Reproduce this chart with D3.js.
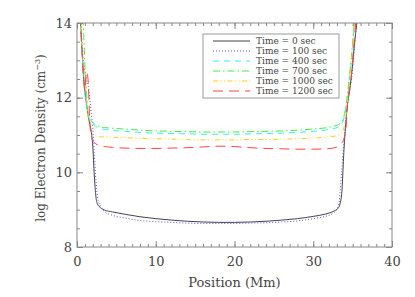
<!DOCTYPE html>
<html>
<head>
<meta charset="utf-8">
<script src="https://cdn.jsdelivr.net/npm/d3@7"></script>
<style>
  body { margin: 0; background: #fff; }
  svg { display: block; }
  text { font-family: "DejaVu Serif", serif; fill: #444; }
</style>
</head>
<body>
<svg id="chart"></svg>
<script>
// position along the loop (Mm)
const position = [0.4, 0.6, 0.8, 1.0, 1.2, 1.4, 1.6, 1.8, 2.0, 2.2, 2.4, 2.6, 3.0, 3.5, 4.5,
    6, 8, 10, 12, 14, 16, 18, 20, 22, 24, 26, 28, 30, 31.5, 32.5,
    33.2, 33.6, 33.9, 34.2, 34.4, 34.6, 34.8, 35.0, 35.2, 35.4, 35.6, 35.8, 36.0];

// log electron density for each time step
const t0 = [14.2, 13.4, 12.7, 12.2, 11.85, 11.55, 11.3, 11.1, 10.7, 9.9, 9.35, 9.15, 9.05, 8.99, 8.94,
    8.88, 8.81, 8.76, 8.72, 8.69, 8.67, 8.66, 8.66, 8.67, 8.69, 8.72, 8.76, 8.82, 8.88, 8.95,
    9.05, 9.4, 10.6, 11.5, 11.9, 12.16, 12.5, 12.9, 13.35, 13.75, 14.1, 14.4, 14.6];
const t100 = [14.3, 13.6, 13.0, 12.7, 12.5, 12.35, 12.0, 11.6, 11.2, 10.5, 9.8, 9.35, 9.08, 8.95, 8.85,
    8.78, 8.71, 8.68, 8.66, 8.64, 8.63, 8.63, 8.63, 8.64, 8.65, 8.67, 8.7, 8.76, 8.82, 8.9,
    9.1, 10.0, 10.8, 11.5, 12.0, 12.3, 12.4, 12.8, 13.3, 13.8, 14.2, 14.5, 14.7];
const t400 = [14.2, 13.3, 12.6, 12.1, 11.8, 11.55, 11.42, 11.35, 11.3, 11.26, 11.23, 11.2, 11.17, 11.15, 11.12,
    11.1, 11.07, 11.05, 11.04, 11.03, 11.02, 11.02, 11.02, 11.03, 11.04, 11.05, 11.07, 11.1, 11.13, 11.17,
    11.22, 11.3, 11.45, 11.8, 12.1, 12.5, 12.9, 13.4, 13.9, 14.3, 14.6, 14.8, 15.0];
const t700 = [14.5, 14.2, 13.9, 12.9, 12.2, 11.6, 11.45, 11.38, 11.33, 11.3, 11.27, 11.25, 11.22, 11.2, 11.18,
    11.16, 11.13, 11.11, 11.1, 11.09, 11.08, 11.08, 11.08, 11.09, 11.1, 11.11, 11.13, 11.16, 11.19, 11.23,
    11.28, 11.35, 11.5, 11.85, 12.2, 12.6, 13.0, 13.5, 14.0, 14.4, 14.7, 14.9, 15.1];
const t1000 = [14.3, 13.5, 12.9, 12.6, 12.0, 11.5, 11.2, 11.07, 11.02, 10.99, 10.97, 10.96, 10.95, 10.95, 10.94,
    10.93, 10.91, 10.9, 10.89, 10.88, 10.87, 10.87, 10.87, 10.88, 10.88, 10.89, 10.9, 10.92, 10.94, 10.96,
    11.0, 11.05, 11.2, 11.6, 12.0, 12.4, 12.9, 13.4, 13.9, 14.3, 14.6, 14.8, 15.0];
const t1200 = [14.2, 13.4, 12.6, 12.2, 12.7, 12.5, 11.5, 11.0, 10.85, 10.8, 10.76, 10.74, 10.71, 10.69, 10.67,
    10.65, 10.64, 10.64, 10.65, 10.66, 10.68, 10.7, 10.69, 10.66, 10.64, 10.63, 10.62, 10.62, 10.63, 10.65,
    10.7, 10.78, 10.9, 11.3, 12.0, 12.2, 12.5, 13.0, 13.5, 14.0, 14.3, 14.6, 14.8];

const labels = ["Time = 0 sec", "Time = 100 sec", "Time = 400 sec", "Time = 700 sec", "Time = 1000 sec", "Time = 1200 sec"];
const xTicks = [0, 10, 20, 30, 40];
const yTicks = [8, 10, 12, 14];

const width = 415;
const height = 297;
const margin = { top: 23, right: 23, bottom: 50, left: 77 };

const series = [
    { values: t0, color: "#444", dash: null },
    { values: t100, color: "#5050ff", dash: "1,2" },
    { values: t400, color: "#33eeee", dash: "6,5" },
    { values: t700, color: "#44ee44", dash: "7,3,1.5,3" },
    { values: t1000, color: "#ffcc22", dash: "5,2.5,1,2.5,1,2.5" },
    { values: t1200, color: "#ff4444", dash: "10,6" }
];
series.forEach((s, i) => s.label = labels[i]);

const svg = d3.select("#chart")
    .attr("width", width)
    .attr("height", height);

const x = d3.scaleLinear().domain([0, 40]).range([margin.left, width - margin.right]);
const y = d3.scaleLinear().domain([8, 14]).range([height - margin.bottom, margin.top]);

svg.append("defs").append("clipPath")
    .attr("id", "plot-clip")
    .append("rect")
    .attr("x", margin.left)
    .attr("y", margin.top)
    .attr("width", width - margin.left - margin.right)
    .attr("height", height - margin.top - margin.bottom);

const line = d3.line()
    .x(d => x(d[0]))
    .y(d => y(d[1]))
    .curve(d3.curveMonotoneX);

svg.append("g")
    .attr("clip-path", "url(#plot-clip)")
    .selectAll(".curve")
    .data(series)
    .enter()
    .append("path")
    .attr("class", "curve")
    .attr("d", s => line(position.map((p, i) => [p, s.values[i]])))
    .attr("fill", "none")
    .attr("stroke", s => s.color)
    .attr("stroke-width", 1)
    .attr("stroke-dasharray", s => s.dash);

// axes, ticks pointing inward
const axisColor = "#888";
function styleAxis(g) {
    g.select(".domain").remove();
    g.selectAll(".tick line").attr("stroke", axisColor);
    g.selectAll("text").attr("font-size", 13).attr("fill", "#444")
        .attr("font-family", "DejaVu Serif, serif");
}

const xMinor = d3.range(0, 41, 1);
const yMinor = d3.range(8, 14.01, 0.5);

svg.append("g")
    .attr("transform", `translate(0,${height - margin.bottom})`)
    .call(d3.axisBottom(x).tickValues(xMinor).tickSize(-3).tickFormat(""))
    .call(styleAxis);
svg.append("g")
    .attr("transform", `translate(0,${height - margin.bottom})`)
    .call(d3.axisBottom(x).tickValues(xTicks).tickSize(-6).tickPadding(10).tickFormat(d3.format("d")))
    .call(styleAxis);
svg.append("g")
    .attr("transform", `translate(0,${margin.top})`)
    .call(d3.axisTop(x).tickValues(xMinor).tickSize(-3).tickFormat(""))
    .call(styleAxis);
svg.append("g")
    .attr("transform", `translate(0,${margin.top})`)
    .call(d3.axisTop(x).tickValues(xTicks).tickSize(-6).tickFormat(""))
    .call(styleAxis);

svg.append("g")
    .attr("transform", `translate(${margin.left},0)`)
    .call(d3.axisLeft(y).tickValues(yMinor).tickSize(-3).tickFormat(""))
    .call(styleAxis);
svg.append("g")
    .attr("transform", `translate(${margin.left},0)`)
    .call(d3.axisLeft(y).tickValues(yTicks).tickSize(-6).tickPadding(5).tickFormat(d3.format("d")))
    .call(styleAxis);
svg.append("g")
    .attr("transform", `translate(${width - margin.right},0)`)
    .call(d3.axisRight(y).tickValues(yMinor).tickSize(-3).tickFormat(""))
    .call(styleAxis);
svg.append("g")
    .attr("transform", `translate(${width - margin.right},0)`)
    .call(d3.axisRight(y).tickValues(yTicks).tickSize(-6).tickFormat(""))
    .call(styleAxis);

svg.append("rect")
    .attr("x", margin.left)
    .attr("y", margin.top)
    .attr("width", width - margin.left - margin.right)
    .attr("height", height - margin.top - margin.bottom)
    .attr("fill", "none")
    .attr("stroke", axisColor);

// axis titles
svg.append("text")
    .attr("x", (margin.left + width - margin.right) / 2)
    .attr("y", 287)
    .attr("text-anchor", "middle")
    .attr("font-size", 13)
    .text("Position (Mm)");

const yTitle = svg.append("text")
    .attr("transform", `translate(45,${(margin.top + height - margin.bottom) / 2 + 3}) rotate(-90)`)
    .attr("text-anchor", "middle")
    .attr("font-size", 12);
yTitle.append("tspan").text("log Electron Density (cm");
yTitle.append("tspan").attr("dy", -5).attr("font-size", 8).text("\u22123");
yTitle.append("tspan").attr("dy", 5).text(")");

// legend
const legend = svg.append("g").attr("class", "legend");
legend.append("rect")
    .attr("x", 203)
    .attr("y", 34)
    .attr("width", 136)
    .attr("height", 64)
    .attr("fill", "#fff")
    .attr("stroke", "#999");

const rows = legend.selectAll(".row")
    .data(series)
    .enter()
    .append("g")
    .attr("class", "row")
    .attr("transform", (d, i) => `translate(0,${41 + i * 10})`);

rows.append("line")
    .attr("x1", 213)
    .attr("x2", 250)
    .attr("stroke", d => d.color)
    .attr("stroke-width", 1)
    .attr("stroke-dasharray", d => d.dash);

rows.append("text")
    .attr("x", 256)
    .attr("dy", "0.35em")
    .attr("font-size", 9)
    .text(d => d.label);
</script>
</body>
</html>
